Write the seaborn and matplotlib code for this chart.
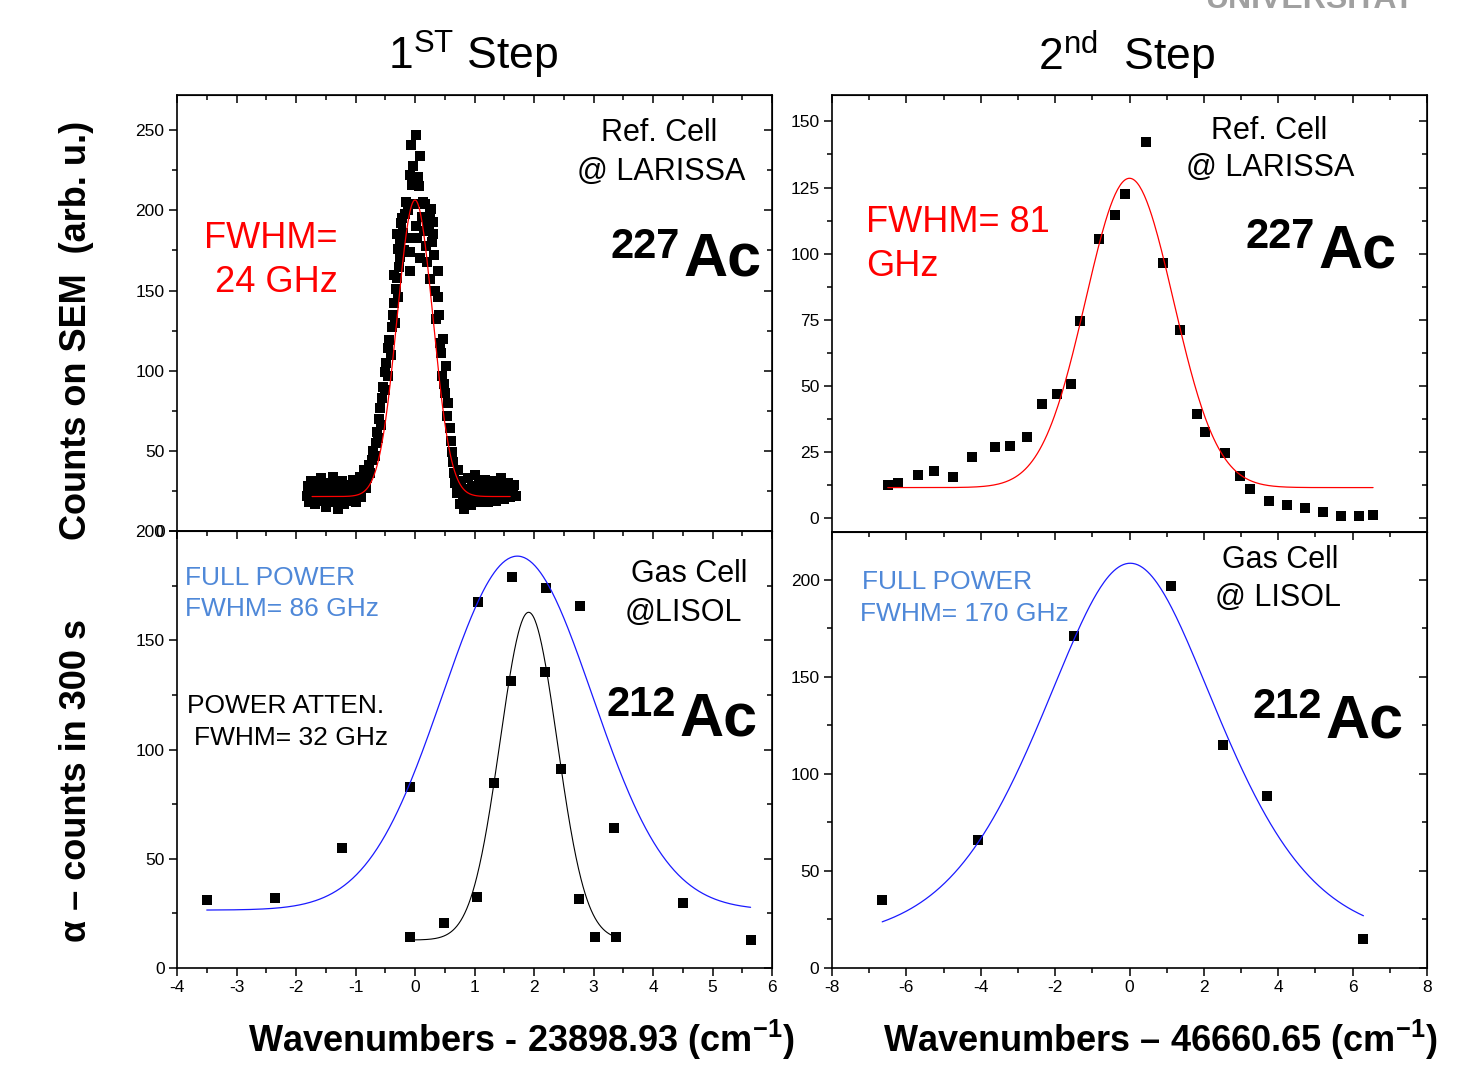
import numpy as np
import matplotlib.pyplot as plt
import matplotlib.ticker as mticker
import seaborn as sns

W, H = 1479, 1069

# ---- 1st step, reference cell @ LARISSA (227Ac) ----
ref1_x = [-1.82, -1.80, -1.78, -1.76, -1.74, -1.72, -1.70, -1.68, -1.66, -1.63,
          -1.61, -1.58, -1.56, -1.54, -1.52, -1.49, -1.47, -1.45, -1.42, -1.40,
          -1.38, -1.36, -1.33, -1.31, -1.29, -1.27, -1.24, -1.22, -1.20, -1.18,
          -1.15, -1.13, -1.11, -1.08, -1.06, -1.04, -1.01, -0.99, -0.97, -0.94,
          -0.92, -0.90, -0.87, -0.85, -0.83,
          -0.80, -0.78, -0.75, -0.73, -0.70, -0.68, -0.66, -0.64, -0.62, -0.60,
          -0.58, -0.57, -0.55, -0.53, -0.51, -0.50, -0.48, -0.46, -0.45, -0.43,
          -0.41, -0.39, -0.37, -0.36, -0.34, -0.32, -0.30, -0.29, -0.27, -0.26,
          -0.25, -0.23, -0.21, -0.19, -0.17, -0.15, -0.13, -0.11, -0.09, -0.08,
          -0.09, -0.07, -0.05, -0.03, -0.01, 0.01, 0.02, 0.03, 0.05, 0.07,
          0.08, 0.09, 0.11, 0.13, 0.15, 0.17, 0.19, 0.21, 0.23, 0.25,
          0.27, 0.29, 0.30, 0.32, 0.34, 0.36, 0.38, 0.40, 0.42, 0.44,
          0.45, 0.47, 0.49, 0.51, 0.52, 0.54, 0.56, 0.58, 0.60, 0.62,
          0.64, 0.66, 0.68, 0.70, 0.72, 0.74,
          0.76, 0.78, 0.80, 0.82, 0.85, 0.87, 0.89, 0.92, 0.94, 0.96,
          0.99, 1.01, 1.03, 1.06, 1.08, 1.10, 1.13, 1.15, 1.17, 1.20,
          1.22, 1.24, 1.27, 1.29, 1.31, 1.34, 1.36, 1.38, 1.41, 1.43,
          1.45, 1.48, 1.50, 1.52, 1.55, 1.57, 1.59, 1.62, 1.64, 1.66, 1.69,
          -0.35, -0.31, -0.22, 0.20, 0.31, 0.39, -0.28, 0.26]
ref1_y = [22, 28, 18, 25, 31, 20, 26, 17, 24, 29,
          21, 33, 19, 27, 23, 15, 30, 22, 26, 18,
          34, 24, 20, 28, 14, 25, 21, 31, 17, 26,
          23, 29, 19, 27, 22, 32, 24, 18, 28, 25,
          34, 21, 30, 38, 27,
          33, 41, 36, 44, 50, 47, 55, 62, 58, 70,
          77, 66, 83, 90, 88, 99, 105, 97, 114, 119,
          110, 127, 135, 142, 130, 151, 158, 146, 165, 171,
          180, 192, 186, 175, 198, 205, 183, 200, 162, 174,
          222, 241, 216, 228, 204, 190, 247, 183, 221, 215,
          234, 170, 196, 205, 187, 204, 178, 193, 187, 157,
          201, 180, 193, 172, 150, 132, 146, 135, 117, 111,
          97, 120, 92, 86, 103, 72, 80, 64, 56, 49,
          43, 36, 30, 24, 38, 28,
          17, 31, 22, 14, 26, 19, 33, 23, 16, 28,
          21, 35, 24, 18, 30, 22, 27, 20, 32, 24,
          18, 29, 23, 26, 21, 31, 19, 25, 28, 22,
          33, 24, 20, 27, 23, 30, 21, 26, 24, 29, 22,
          160, 185, 195, 168, 185, 162, 176, 199]

# ---- 2nd step, reference cell @ LARISSA (227Ac) ----
ref2_x = [-6.49, -6.23, -5.69, -5.27, -4.75, -4.24, -3.62, -3.21, -2.75, -2.34,
          -1.95, -1.56, -1.33, -0.81, -0.38, -0.13, 0.45, 0.89, 1.37, 1.82,
          2.02, 2.56, 2.98, 3.23, 3.75, 4.23, 4.71, 5.19, 5.69, 6.17, 6.55]
ref2_y = [12.5, 13.1, 16.4, 17.9, 15.4, 23.0, 26.8, 27.1, 30.8, 43.3,
          46.8, 50.6, 74.6, 105.6, 114.5, 122.4, 142.4, 96.5, 71.1, 39.3,
          32.5, 24.4, 16.0, 10.9, 6.4, 5.0, 3.8, 2.1, 0.9, 0.9, 1.3]

# ---- 1st step, gas cell @ LISOL (212Ac) ----
gas1_full_x = [-3.50, -2.36, -1.22, -0.08, 1.06, 1.63, 2.21, 2.78, 3.35, 4.50, 5.64]
gas1_full_y = [30.9, 31.9, 54.9, 82.9, 167.7, 178.8, 173.8, 165.9, 64.0, 29.9, 13.0]
gas1_att_x = [-0.09, 0.48, 1.04, 1.33, 1.61, 2.18, 2.46, 2.75, 3.03, 3.37]
gas1_att_y = [14.0, 20.6, 32.6, 84.8, 131.4, 135.4, 91.3, 31.6, 14.0, 14.0]

# ---- 2nd step, gas cell @ LISOL (212Ac) ----
gas2_x = [-6.65, -4.08, -1.49, 1.11, 2.51, 3.70, 6.29]
gas2_y = [35.0, 65.8, 171.2, 197.1, 115.0, 88.9, 14.9]

# fit parameters (centre, sigma, amplitude, baseline, x from, x to)
fit_ref1 = [0.0, 0.30, 185.0, 21.5, -1.73, 1.60]
fit_ref2 = [0.0, 1.18, 117.0, 11.5, -6.50, 6.55]
fit_gas1_full = [1.72, 1.26, 162.0, 26.5, -3.50, 5.64]
fit_gas1_att = [1.91, 0.48, 150.0, 12.8, -0.09, 3.30]
# pseudo-Voigt (centre, fwhm, eta, amplitude, baseline, x from, x to)
fit_gas2 = [0.02, 5.8, 0.5, 203.6, 5.0, -6.65, 6.29]

BLUE_TXT = '#4f88d8'

sns.set_style('ticks')
plt.rcParams['font.family'] = ['Liberation Sans', 'DejaVu Sans']
plt.rcParams['axes.unicode_minus'] = False
plt.rcParams['mathtext.fontset'] = 'custom'
plt.rcParams['mathtext.rm'] = 'Liberation Sans'
plt.rcParams['mathtext.it'] = 'Liberation Sans:italic'
plt.rcParams['mathtext.bf'] = 'Liberation Sans:bold'
for key in ['text.color', 'axes.labelcolor', 'xtick.color', 'ytick.color',
            'axes.edgecolor']:
    plt.rcParams[key] = 'black'


def gauss_curve(p):
    c, s, a, b, lo, hi = p
    xs = np.linspace(lo, hi, 400)
    return xs, b + a * np.exp(-0.5 * ((xs - c) / s) ** 2)


def pvoigt_curve(p):
    c, w, eta, a, b, lo, hi = p
    xs = np.linspace(lo, hi, 400)
    lor = 1.0 / (1.0 + (2 * (xs - c) / w) ** 2)
    gau = np.exp(-4 * np.log(2) * ((xs - c) / w) ** 2)
    return xs, b + a * (eta * lor + (1 - eta) * gau)


def px_axes(l, t, r, b):
    return [l / W, 1 - b / H, (r - l) / W, (b - t) / H]


def style(ax, xlim, ylim, xmaj, xmin, ymaj, ymin, xlabels):
    ax.set_xlim(xlim)
    ax.set_ylim(ylim)
    ax.set_xlabel('')
    ax.set_ylabel('')
    for a, maj, mn in ((ax.xaxis, xmaj, xmin), (ax.yaxis, ymaj, ymin)):
        a.set_major_locator(mticker.MultipleLocator(maj))
        a.set_minor_locator(mticker.MultipleLocator(mn))
    ax.tick_params(which='both', direction='out', labelsize=12.5, width=1.1,
                   colors='black', pad=3)
    ax.tick_params(which='major', length=6)
    ax.tick_params(which='minor', length=3.5)
    if not xlabels:
        ax.tick_params(axis='x', labelbottom=False)
    for sp in ax.spines.values():
        sp.set_visible(True)
        sp.set_linewidth(1.2)
        sp.set_color('black')
    top = ax.secondary_xaxis('top')
    top.xaxis.set_major_locator(mticker.MultipleLocator(xmaj))
    top.xaxis.set_minor_locator(mticker.MultipleLocator(xmin))
    top.tick_params(which='both', direction='in', labeltop=False, width=1.1)
    top.tick_params(which='major', length=6)
    top.tick_params(which='minor', length=3.5)
    right = ax.secondary_yaxis('right')
    right.yaxis.set_major_locator(mticker.MultipleLocator(ymaj))
    right.yaxis.set_minor_locator(mticker.MultipleLocator(ymin))
    right.tick_params(which='both', direction='in', labelright=False, width=1.1)
    right.tick_params(which='major', length=6)
    right.tick_params(which='minor', length=3.5)


def ftext(x, y, s, **kw):
    kw.setdefault('color', 'black')
    fig.text(x / W, 1 - y / H, s, **kw)


def isotope(xr, base_mass, base_ac, mass):
    ftext(xr, base_mass, mass, ha='right', va='baseline', fontsize=30,
          fontweight='bold')
    ftext(xr + 3, base_ac, 'Ac', ha='left', va='baseline', fontsize=44,
          fontweight='bold')


fig = plt.figure(figsize=(W / 100, H / 100), dpi=100)
ax_tl = fig.add_axes(px_axes(177, 95, 772, 531))
ax_bl = fig.add_axes(px_axes(177, 531, 772, 968))
ax_tr = fig.add_axes(px_axes(832, 95, 1427, 532))
ax_br = fig.add_axes(px_axes(832, 532, 1427, 968))

# top left
sns.scatterplot(x=ref1_x, y=ref1_y, ax=ax_tl, marker='s', s=52, color='black',
                linewidth=0, zorder=2)
fx, fy = gauss_curve(fit_ref1)
sns.lineplot(x=fx, y=fy, ax=ax_tl, color='red', linewidth=0.9, zorder=3)
style(ax_tl, (-4, 6), (0, 272), 1, 0.5, 50, 25, False)

# top right
sns.scatterplot(x=ref2_x, y=ref2_y, ax=ax_tr, marker='s', s=58, color='black',
                linewidth=0, zorder=2)
fx, fy = gauss_curve(fit_ref2)
sns.lineplot(x=fx, y=fy, ax=ax_tr, color='red', linewidth=0.9, zorder=3)
style(ax_tr, (-8, 8), (-5.3, 160), 2, 1, 25, 12.5, False)

# bottom left
sns.scatterplot(x=gas1_full_x, y=gas1_full_y, ax=ax_bl, marker='s', s=58,
                color='black', linewidth=0, zorder=2)
sns.scatterplot(x=gas1_att_x, y=gas1_att_y, ax=ax_bl, marker='s', s=58,
                color='black', linewidth=0, zorder=2)
fx, fy = gauss_curve(fit_gas1_full)
sns.lineplot(x=fx, y=fy, ax=ax_bl, color='#1a1aff', linewidth=0.9, zorder=3)
fx, fy = gauss_curve(fit_gas1_att)
sns.lineplot(x=fx, y=fy, ax=ax_bl, color='black', linewidth=0.8, zorder=3)
style(ax_bl, (-4, 6), (0, 200), 1, 0.5, 50, 25, True)

# bottom right
sns.scatterplot(x=gas2_x, y=gas2_y, ax=ax_br, marker='s', s=58, color='black',
                linewidth=0, zorder=2)
fx, fy = pvoigt_curve(fit_gas2)
sns.lineplot(x=fx, y=fy, ax=ax_br, color='#1a1aff', linewidth=0.9, zorder=3)
style(ax_br, (-8, 8), (0, 224.7), 2, 1, 50, 25, True)

# titles and axis labels
ftext(473, 55, '1$^{\\mathrm{ST}}$ Step', ha='center', va='center', fontsize=32)
ftext(1127, 55, '2$^{\\mathrm{nd}}$  Step', ha='center', va='center', fontsize=32)
ftext(77, 330, 'Counts on SEM  (arb. u.)', ha='center', va='center',
      rotation=90, fontsize=26, fontweight='bold')
ftext(77, 780, '\u03b1 \u2013 counts in 300 s', ha='center', va='center',
      rotation=90, fontsize=26, fontweight='bold')
ftext(521, 1040, 'Wavenumbers - 23898.93 (cm$^{\\mathbf{-1}}$)', ha='center',
      va='center', fontsize=26, fontweight='bold')
ftext(1160, 1040, 'Wavenumbers \u2013 46660.65 (cm$^{\\mathbf{-1}}$)', ha='center',
      va='center', fontsize=26, fontweight='bold')

# panel annotations
ftext(659, 133, 'Ref. Cell', ha='center', va='center', fontsize=22)
ftext(661, 172, '@ LARISSA', ha='center', va='center', fontsize=22)
ftext(271, 238, 'FWHM=', ha='center', va='center', fontsize=26, color='red')
ftext(276, 283, '24 GHz', ha='center', va='center', fontsize=26, color='red')
isotope(680, 258, 275, '227')

ftext(1269, 131, 'Ref. Cell', ha='center', va='center', fontsize=22)
ftext(1270, 168, '@ LARISSA', ha='center', va='center', fontsize=22)
ftext(866, 222, 'FWHM= 81', ha='left', va='center', fontsize=26, color='red')
ftext(866, 267, 'GHz', ha='left', va='center', fontsize=26, color='red')
isotope(1315, 248, 267, '227')

ftext(185, 578, 'FULL POWER', ha='left', va='center', fontsize=19, color=BLUE_TXT)
ftext(185, 609, 'FWHM= 86 GHz', ha='left', va='center', fontsize=19, color=BLUE_TXT)
ftext(187, 706, 'POWER ATTEN.', ha='left', va='center', fontsize=19)
ftext(194, 738, 'FWHM= 32 GHz', ha='left', va='center', fontsize=19)
ftext(689, 574, 'Gas Cell', ha='center', va='center', fontsize=22)
ftext(683, 613, '@LISOL', ha='center', va='center', fontsize=22)
isotope(676, 716, 735, '212')

ftext(862, 582, 'FULL POWER', ha='left', va='center', fontsize=19, color=BLUE_TXT)
ftext(860, 614, 'FWHM= 170 GHz', ha='left', va='center', fontsize=19, color=BLUE_TXT)
ftext(1280, 560, 'Gas Cell', ha='center', va='center', fontsize=22)
ftext(1278, 598, '@ LISOL', ha='center', va='center', fontsize=22)
isotope(1322, 718, 737, '212')

# cut-off logo text at the top edge
ftext(1205, 8, 'UNIVERSITAT', ha='left', va='baseline', fontsize=23,
      fontweight='bold', color='#a0a0a0')

fig.savefig('out.png', dpi=100, facecolor='white')
